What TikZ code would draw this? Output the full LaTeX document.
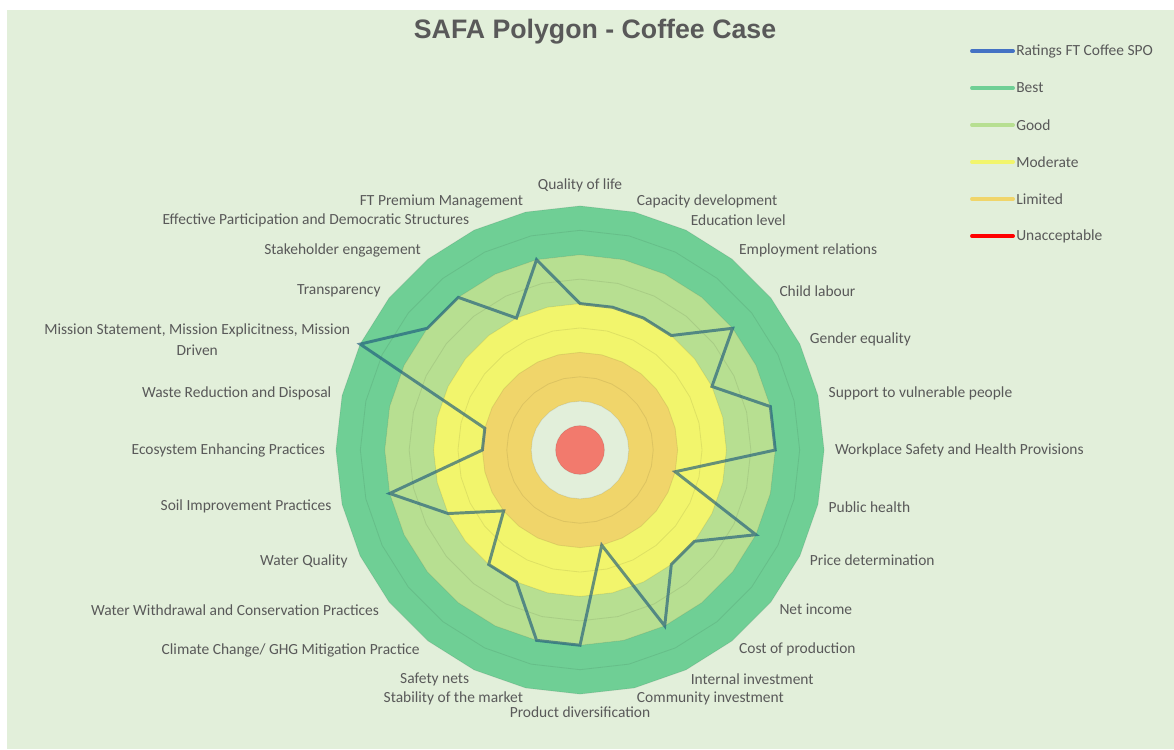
\documentclass[tikz,border=0pt]{standalone}
\usepackage{fontspec}
\setmainfont{Carlito}
\newfontfamily\titlefont{Liberation Sans}
\usetikzlibrary{positioning}

\definecolor{bgcol}{HTML}{E2EFDA}
\definecolor{textgrey}{HTML}{595959}
\definecolor{best}{HTML}{6FCF95}
\definecolor{good}{HTML}{B7DF91}
\definecolor{moderate}{HTML}{F2F56C}
\definecolor{limited}{HTML}{F0D56A}
\definecolor{unaccept}{HTML}{F27A6D}
\definecolor{ratingcol}{RGB}{30,90,125}
\definecolor{legblue}{HTML}{4472C4}
\definecolor{legred}{HTML}{FF0000}

\begin{document}
\begin{tikzpicture}[x=0.025cm, y=-0.025cm,
    lbl/.style={font=\fontsize{11pt}{13pt}\selectfont, text=textgrey, inner sep=0pt},
    title/.style={font=\titlefont\bfseries\fontsize{19pt}{22pt}\selectfont, text=textgrey},
    gridline/.style={draw=black, draw opacity=0.08, line width=0.6pt},
    rating/.style={draw=ratingcol, draw opacity=0.65, line width=2.1pt},
    legline/.style={line width=2.8pt, line cap=round}]
    % Card background
    \useasboundingbox (0,0) rectangle (1174,749);
    \fill[white] (0,0) rectangle (1174,749);
    \fill[bgcol] (7,10) rectangle (1174,749);

    % Title
    \node[title] (title) at (595,32) {SAFA Polygon - Coffee Case};

    % Polygon, one unit per level
    \begin{scope}[shift={(580,450)}, x=1.22cm, y=-1.22cm]
        % Levels, outside in
        \foreach \r/\c in {5/best, 4/good, 3/moderate, 2/limited, 1/bgcol, 0.5/unaccept}
            \fill[fill=\c] plot[domain=0:27, samples=28] ({\x*360/28-90}:\r) -- cycle;
        % Grid
        \foreach \r in {0.5,1,...,5}
            \draw[gridline] plot[domain=0:27, samples=28] ({\x*360/28-90}:\r) -- cycle;
        % Ratings
        \foreach \v [count=\k from 0] in {3,3,3,3,4,3,4,4,2,4,3,3,4,2,4,4,3,3,2,3,4,2,2,5,4,4,3,4}
            \coordinate (r\k) at ({\k*360/28-90}:\v);
        \draw[rating] (r0) \foreach \k in {1,...,27} { -- (r\k) } -- cycle;

        % Axis labels
        \node[lbl, anchor=south] (quality) at (-90:5.28) {Quality of life};
        \node[lbl, anchor=west] (capacity) at (-77.14:5.22) {Capacity development};
        \node[lbl, anchor=west] (education) at (-64.29:5.22) {Education level};
        \node[lbl, anchor=west] (employment) at (-51.43:5.22) {Employment relations};
        \node[lbl, anchor=west] (childlab) at (-38.57:5.22) {Child labour};
        \node[lbl, anchor=west] (gender) at (-25.71:5.22) {Gender equality};
        \node[lbl, anchor=west] (vulnerable) at (-12.86:5.22) {Support to vulnerable people};
        \node[lbl, anchor=west] (workplace) at (0:5.22) {Workplace Safety and Health Provisions};
        \node[lbl, anchor=west] (health) at (12.86:5.22) {Public health};
        \node[lbl, anchor=west] (price) at (25.71:5.22) {Price determination};
        \node[lbl, anchor=west] (netinc) at (38.57:5.22) {Net income};
        \node[lbl, anchor=west] (cost) at (51.43:5.22) {Cost of production};
        \node[lbl, anchor=west] (internal) at (64.29:5.22) {Internal investment};
        \node[lbl, anchor=west] (community) at (77.14:5.22) {Community investment};
        \node[lbl, anchor=north] (product) at (90:5.26) {Product diversification};
        \node[lbl, anchor=east] (market) at (102.86:5.22) {Stability of the market};
        \node[lbl, anchor=east] (safety) at (115.71:5.22) {Safety nets};
        \node[lbl, anchor=east] (climate) at (128.57:5.26) {Climate Change/ GHG Mitigation Practice};
        \node[lbl, anchor=east] (withdraw) at (141.43:5.26) {Water Withdrawal and Conservation Practices};
        \node[lbl, anchor=east] (waterq) at (154.29:5.28) {Water Quality};
        \node[lbl, anchor=east] (soil) at (167.14:5.22) {Soil Improvement Practices};
        \node[lbl, anchor=east] (ecosys) at (180:5.22) {Ecosystem Enhancing Practices};
        \node[lbl, anchor=east] (waste) at (192.86:5.22) {Waste Reduction and Disposal};
        \node[lbl, anchor=east, align=center] (mission) at (205.71:5.22) {Mission Statement, Mission Explicitness, Mission\\[2pt]Driven};
        \node[lbl, anchor=east] (transp) at (218.57:5.22) {Transparency};
        \node[lbl, anchor=east] (stakeh) at (231.43:5.22) {Stakeholder engagement};
        \node[lbl, anchor=east] (particip) at (244.29:5.22) {Effective Participation and Democratic Structures};
        \node[lbl, anchor=east] (premium) at (257.14:5.22) {FT Premium Management};
    \end{scope}

    % Legend
    \foreach \y/\c/\t [count=\i] in {51/legblue/Ratings FT Coffee SPO, 88/best/Best, 125/good/Good,
            162/moderate/Moderate, 199/limited/Limited, 236/legred/Unacceptable} {
        \draw[legline, draw=\c] (972,\y) -- (1013,\y);
        \node[lbl, anchor=west] (leg\i) at (1016,\y) {\t};
    }
\end{tikzpicture}
\end{document}
